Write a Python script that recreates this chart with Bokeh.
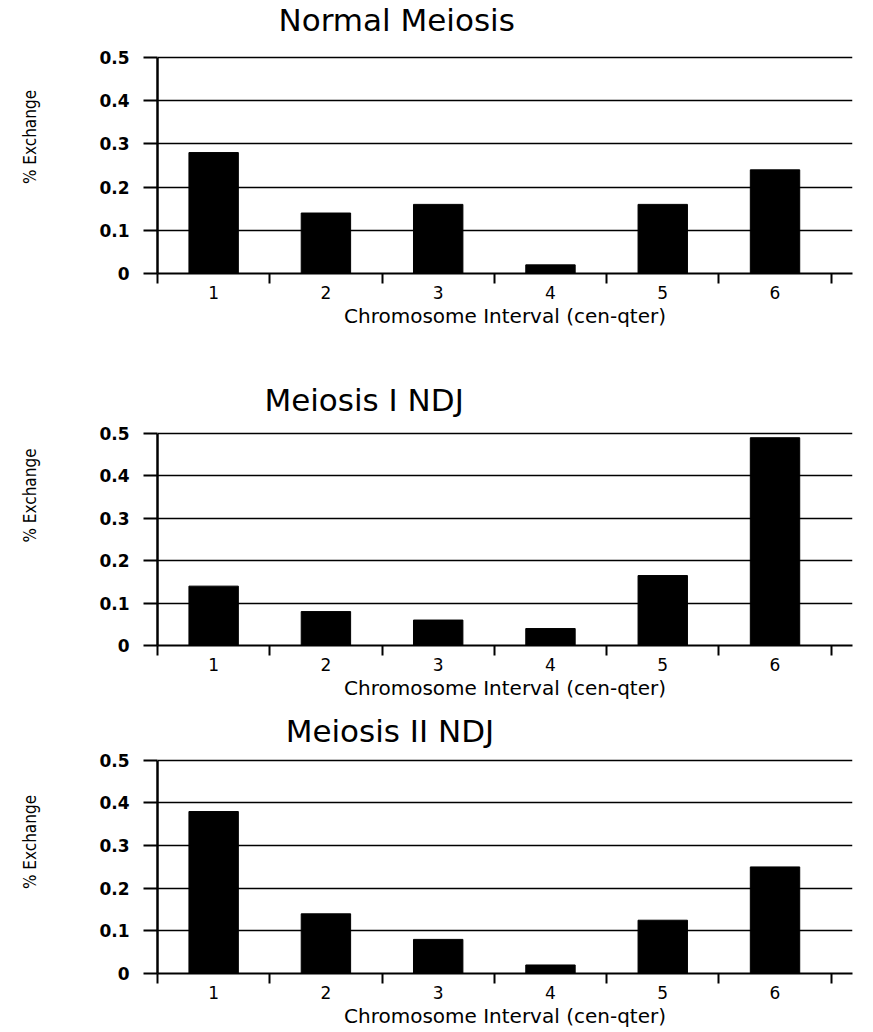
from bokeh.plotting import figure
from bokeh.layouts import column
from bokeh.models import Range1d, FixedTicker, CustomJSTickFormatter, ColumnDataSource, Label
from bokeh.embed import file_html
from bokeh.resources import INLINE

# ---- data ----
intervals = ["1", "2", "3", "4", "5", "6"]
normal_meiosis = [0.28, 0.14, 0.16, 0.02, 0.16, 0.24]
meiosis_i_ndj = [0.14, 0.08, 0.06, 0.04, 0.165, 0.49]
meiosis_ii_ndj = [0.38, 0.14, 0.08, 0.02, 0.125, 0.25]
y_ticks = [0, 0.1, 0.2, 0.3, 0.4, 0.5]
titles = ["Normal Meiosis", "Meiosis I NDJ", "Meiosis II NDJ"]
x_label = "Chromosome Interval (cen-qter)"
y_label = "% Exchange"

FONT = "DejaVu Sans"
NARROW = "'Liberation Sans Narrow', 'DejaVu Sans Condensed', Roboto, sans-serif"


def make_panel(title, values, y_end, frame_h, border_bottom, title_x, title_y):
    n = len(intervals)
    centers = [i + 0.5 for i in range(n)]
    src = ColumnDataSource(dict(x=centers, top=values))
    p = figure(width=856, height=frame_h + border_bottom,
               x_range=Range1d(0, n + 0.19), y_range=Range1d(0, y_end),
               output_backend="svg", toolbar_location=None, title_location=None,
               min_border_left=157, min_border_right=4,
               min_border_top=0, min_border_bottom=border_bottom)
    p.outline_line_color = None
    p.background_fill_color = "white"
    p.border_fill_color = "white"

    p.vbar(x="x", top="top", width=0.44, source=src, fill_color="black", line_color="black")

    # title placed inside the (extended) frame, above the 0.5 gridline
    p.add_layout(Label(x=title_x, y=title_y, text=title, text_align="center",
                       text_baseline="middle", text_font=FONT, text_font_size="31px",
                       text_color="black"))

    # x axis
    xa = p.xaxis[0]
    xa.ticker = FixedTicker(ticks=centers, minor_ticks=list(range(n + 1)))
    xa.formatter = CustomJSTickFormatter(args=dict(labels=intervals),
                                         code="return labels[Math.floor(tick)];")
    xa.major_tick_out = 0
    xa.major_tick_in = 0
    xa.minor_tick_out = 10
    xa.minor_tick_in = 0
    xa.minor_tick_line_width = 2
    xa.minor_tick_line_color = "black"
    xa.axis_line_width = 2
    xa.axis_line_color = "black"
    xa.major_label_standoff = 2
    xa.major_label_text_font = FONT
    xa.major_label_text_font_size = "17px"
    xa.major_label_text_color = "black"
    xa.axis_label = x_label
    xa.axis_label_text_font = FONT
    xa.axis_label_text_font_size = "20px"
    xa.axis_label_text_font_style = "normal"
    xa.axis_label_text_color = "black"
    xa.axis_label_standoff = 2

    # y axis (line limited to 0..0.5)
    ya = p.yaxis[0]
    ya.bounds = (0, 0.5)
    ya.ticker = FixedTicker(ticks=y_ticks, minor_ticks=[])
    ya.formatter = CustomJSTickFormatter(code="return tick == 0 ? '0' : tick.toFixed(1);")
    ya.major_tick_out = 14
    ya.major_tick_in = 0
    ya.major_tick_line_width = 2
    ya.major_tick_line_color = "black"
    ya.axis_line_width = 2.5
    ya.axis_line_color = "black"
    ya.major_label_standoff = 14
    ya.major_label_text_font = FONT
    ya.major_label_text_font_size = "17px"
    ya.major_label_text_font_style = "bold"
    ya.major_label_text_color = "black"
    ya.axis_label = y_label
    ya.axis_label_text_font = NARROW
    ya.axis_label_text_font_size = "17px"
    ya.axis_label_text_font_style = "normal"
    ya.axis_label_text_color = "black"
    ya.axis_label_standoff = 56

    # grid
    p.xgrid.visible = False
    p.ygrid.ticker = FixedTicker(ticks=y_ticks)
    p.ygrid.grid_line_color = "black"
    p.ygrid.grid_line_width = 1.5
    return p


p1 = make_panel(titles[0], normal_meiosis, 0.632, 273, 72, 2.13, 0.587)
p2 = make_panel(titles[1], meiosis_i_ndj, 0.7075, 300, 65, 1.84, 0.578)
p3 = make_panel(titles[2], meiosis_ii_ndj, 0.617, 263, 57, 2.07, 0.568)

layout = column(p1, p2, p3, spacing=0)
open("out.html", "w").write(file_html(layout, INLINE))
